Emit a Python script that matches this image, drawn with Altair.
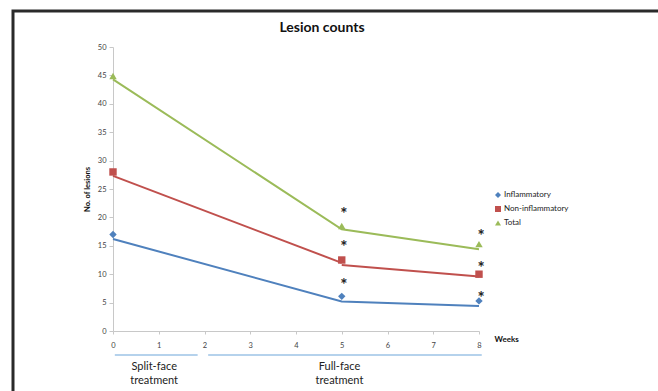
import altair as alt
import pandas as pd

FONT = "Lato"

series = ["Inflammatory", "Non-inflammatory", "Total"]
colors = ["#4F81BD", "#C0504D", "#9BBB59"]
shapes = ["diamond", "square", "triangle-up"]

# observed values (markers)
marker_weeks = [0, 5, 8]
marker_inflammatory = [17.0, 6.1, 5.3]
marker_noninflammatory = [28.0, 12.5, 10.0]
marker_total = [44.9, 18.5, 15.3]

# fitted lines (drawn in segments)
line_inflammatory_weeks = [0, 5, 8]
line_inflammatory_vals = [16.2, 5.2, 4.4]
line_noninf_a_weeks = [0, 5]
line_noninf_a_vals = [27.3, 12.0]
line_noninf_b_weeks = [5, 8]
line_noninf_b_vals = [11.6, 9.6]
line_total_weeks = [0, 5, 8]
line_total_vals = [44.3, 17.9, 14.4]

# significance asterisks
star_weeks = [5, 5, 5, 8, 8, 8]
star_vals = [8.7, 15.3, 21.1, 6.3, 11.7, 17.2]

# treatment phases under the axis
phase_labels = ["Split-face\ntreatment", "Full-face\ntreatment"]
phase_start = [0.04, 2.08]
phase_end = [1.85, 8.06]
phase_center = [0.9, 4.95]

x_ticks = list(range(0, 9))
y_ticks = list(range(0, 51, 5))

markers = pd.DataFrame({
    "week": marker_weeks * 3,
    "value": marker_inflammatory + marker_noninflammatory + marker_total,
    "series": [s for s in series for _ in marker_weeks],
})

lines = pd.concat([
    pd.DataFrame({"week": line_inflammatory_weeks, "value": line_inflammatory_vals,
                  "series": series[0], "seg": "i"}),
    pd.DataFrame({"week": line_noninf_a_weeks, "value": line_noninf_a_vals,
                  "series": series[1], "seg": "na"}),
    pd.DataFrame({"week": line_noninf_b_weeks, "value": line_noninf_b_vals,
                  "series": series[1], "seg": "nb"}),
    pd.DataFrame({"week": line_total_weeks, "value": line_total_vals,
                  "series": series[2], "seg": "t"}),
])

stars = pd.DataFrame({"week": star_weeks, "value": star_vals})
phases = pd.DataFrame({"label": phase_labels, "start": phase_start,
                       "end": phase_end, "center": phase_center})

xscale = alt.Scale(domain=[0, 8], nice=False)
yscale = alt.Scale(domain=[0, 50], nice=False)

x_axis = alt.Axis(values=x_ticks, title="Weeks", grid=False, labelFontSize=7.5,
                  labelColor="#444", domainColor="#c8c8c8", tickColor="#c8c8c8",
                  tickSize=3, labelPadding=7, labelFont=FONT, labelOverlap=False,
                  labelFlush=False,
                  titleFont=FONT, titleFontSize=8, titleFontWeight="bold",
                  titleColor="#111", titleX=381, titleY=8, titleAlign="left",
                  titleBaseline="middle")
y_axis = alt.Axis(values=y_ticks, title="No. of lesions", grid=False,
                  labelFontSize=7.5, labelColor="#444", domainColor="#c8c8c8",
                  tickColor="#c8c8c8", tickSize=4, labelPadding=3, labelFont=FONT,
                  labelOverlap=False, labelFlush=False,
                  titleFont=FONT, titleFontSize=7.5, titleFontWeight="bold",
                  titleColor="#111", titlePadding=6)


def X(field):
    return alt.X(field, scale=xscale, axis=x_axis)


def Y(field):
    return alt.Y(field, scale=yscale, axis=y_axis)


line_layers = []
for s, c in zip(series, colors):
    line_layers.append(
        alt.Chart(lines).transform_filter(alt.datum.series == s)
        .mark_line(strokeWidth=2, color=c)
        .encode(x=X("week:Q"), y=Y("value:Q"), detail="seg:N")
    )

point_layer = alt.Chart(markers).mark_point(filled=True, size=55, opacity=1).encode(
    x=X("week:Q"),
    y=Y("value:Q"),
    color=alt.Color("series:N", scale=alt.Scale(domain=series, range=colors),
                    legend=alt.Legend(title=None)),
    shape=alt.Shape("series:N", scale=alt.Scale(domain=series, range=shapes),
                    legend=alt.Legend(title=None)),
)

star_layer = alt.Chart(stars).mark_text(text="*", fontSize=17, font=FONT,
                                        fontWeight="bold", color="#222",
                                        baseline="middle", dx=2, dy=4).encode(
    x=X("week:Q"),
    y=Y("value:Q"),
)

phase_rule = alt.Chart(phases).mark_rule(color="#9DC3E6", strokeWidth=1.5).encode(
    x=X("start:Q"),
    x2="end:Q",
    y=alt.value(308),
)

phase_text = alt.Chart(phases).mark_text(lineBreak="\n", fontSize=11, font=FONT,
                                         color="#222", baseline="top",
                                         lineHeight=14).encode(
    x=X("center:Q"),
    y=alt.value(314),
    text="label:N",
)

single = pd.DataFrame({"title": ["Lesion counts"]})

frame = alt.Chart(single).mark_rect(
    fill=None, stroke="#2a2a2a", strokeWidth=3).encode(
    x=alt.value(-100), x2=alt.value(600), y=alt.value(-36), y2=alt.value(400))

title_layer = alt.Chart(single).mark_text(
    font=FONT, fontSize=14, fontWeight="bold", color="#111",
    baseline="middle", align="center").encode(
    x=alt.value(209), y=alt.value(-19), text="title:N")

chart = alt.layer(
    frame, title_layer, phase_rule, phase_text, *line_layers, point_layer, star_layer
).properties(
    width=366, height=284,
    padding={"left": 113, "top": 47, "right": 179, "bottom": 60},
    autosize=alt.AutoSizeParams(type="none"),
).configure_view(stroke=None).configure_legend(
    orient="none", legendX=381, legendY=144, labelFont=FONT, labelFontSize=8,
    labelColor="#222", symbolSize=36, rowPadding=6, labelOffset=2,
)

chart.save("out.html", embed_options={"renderer": "svg", "actions": False})
